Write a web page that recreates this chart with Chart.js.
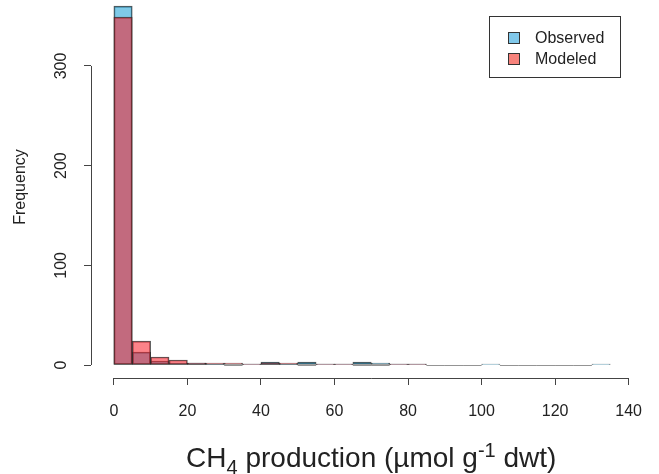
<!DOCTYPE html>
<html>
<head>
<meta charset="utf-8">
<script src="https://cdn.jsdelivr.net/npm/chart.js@4/dist/chart.umd.min.js"></script>
<style>
  html, body { margin: 0; padding: 0; background: #ffffff; }
  #wrap { width: 659px; height: 474px; }
</style>
</head>
<body>
<div id="wrap"><canvas id="hist" width="659" height="474"></canvas></div>
<script>
// Histogram bins (µmol g-1 dwt), 5-unit wide
const binLo = [0, 5, 10, 15, 20, 25, 30, 35, 40, 45, 50, 55, 60, 65, 70, 75, 80, 85, 90, 95, 100, 105, 110, 115, 120, 125, 130];
const binHi = [5, 10, 15, 20, 25, 30, 35, 40, 45, 50, 55, 60, 65, 70, 75, 80, 85, 90, 95, 100, 105, 110, 115, 120, 125, 130, 135];

// Counts per bin
const observedCounts = [360, 13, 4, 2, 2, 1, 0, 1, 3, 1, 3, 1, 1, 3, 2, 1, 1, 0, 0, 0, 1, 0, 0, 0, 0, 0, 1];
const modeledCounts  = [349, 24, 8, 5, 2, 2, 2, 1, 2, 2, 0, 1, 1, 0, 0, 1, 1];

// Axis ticks
const xTicks = [0, 20, 40, 60, 80, 100, 120, 140];
const yTicks = [0, 100, 200, 300];

const seriesNames = ['Observed', 'Modeled'];
const seriesFill = ['rgba(0, 150, 210, 0.5)', 'rgba(250, 30, 40, 0.55)'];
const legendFill = ['#80c8ea', '#f8837c'];

const FONT = '"Liberation Sans", Arial, Helvetica, sans-serif';

function toPoints(counts) {
  return counts.map((c, i) => ({ x: (binLo[i] + binHi[i]) / 2, y: c, lo: binLo[i], hi: binHi[i] }));
}

// Axes, labels, zero-height bins and legend, drawn in the style of base graphics
const rAxes = {
  id: 'rAxes',
  afterDatasetsDraw(chart) {
    const ctx = chart.ctx;
    const xs = chart.scales.x, ys = chart.scales.y;
    ctx.save();
    // zero-count bins show as a flat outline
    chart.data.datasets.forEach((ds) => {
      ds.data.forEach((p) => {
        if (p.y === 0) {
          const y0 = Math.round(ys.getPixelForValue(0)) + 0.5;
          ctx.strokeStyle = 'rgba(60,60,60,0.55)';
          ctx.lineWidth = 1;
          ctx.beginPath();
          ctx.moveTo(xs.getPixelForValue(p.lo), y0);
          ctx.lineTo(xs.getPixelForValue(p.hi), y0);
          ctx.stroke();
        }
      });
    });
    ctx.restore();
  },
  afterDraw(chart) {
    const ctx = chart.ctx;
    const xs = chart.scales.x, ys = chart.scales.y;
    const area = chart.chartArea;
    ctx.save();
    ctx.strokeStyle = '#444';
    ctx.lineWidth = 1;
    // x axis line
    const xy = Math.round(area.bottom) + 0.5;
    ctx.beginPath();
    ctx.moveTo(xs.getPixelForValue(xTicks[0]), xy);
    ctx.lineTo(xs.getPixelForValue(xTicks[xTicks.length - 1]), xy);
    ctx.stroke();
    // y axis line
    const yx = Math.round(area.left) + 0.5;
    ctx.beginPath();
    ctx.moveTo(yx, ys.getPixelForValue(yTicks[0]));
    ctx.lineTo(yx, ys.getPixelForValue(yTicks[yTicks.length - 1]));
    ctx.stroke();
    // y tick labels, rotated
    ctx.fillStyle = '#222';
    ctx.font = '16px ' + FONT;
    ctx.textAlign = 'center';
    ctx.textBaseline = 'middle';
    yTicks.forEach((v) => {
      ctx.save();
      ctx.translate(area.left - 29, ys.getPixelForValue(v));
      ctx.rotate(-Math.PI / 2);
      ctx.fillText(String(v), 0, 0);
      ctx.restore();
    });
    // y title
    ctx.save();
    ctx.translate(21, 187);
    ctx.rotate(-Math.PI / 2);
    ctx.font = '16px ' + FONT;
    ctx.fillText('Frequency', 0, 0);
    ctx.restore();
    // x title with sub/superscripts
    const parts = [
      { t: 'CH', size: 28, dy: 0 },
      { t: '4', size: 20, dy: 7 },
      { t: ' production (µmol g', size: 28, dy: 0 },
      { t: '-1', size: 20, dy: -10 },
      { t: ' dwt)', size: 28, dy: 0 }
    ];
    let total = 0;
    parts.forEach((p) => { ctx.font = p.size + 'px ' + FONT; p.w = ctx.measureText(p.t).width; total += p.w; });
    let cx = (xs.getPixelForValue(xTicks[0]) + xs.getPixelForValue(xTicks[xTicks.length - 1])) / 2 - total / 2;
    ctx.textAlign = 'left';
    ctx.textBaseline = 'alphabetic';
    parts.forEach((p) => {
      ctx.font = p.size + 'px ' + FONT;
      ctx.fillText(p.t, cx, 467 + p.dy);
      cx += p.w;
    });
    // legend
    const lx = 489.5, ly = 16.5, lw = 131, lh = 61;
    ctx.strokeStyle = '#333';
    ctx.strokeRect(lx, ly, lw, lh);
    ctx.font = '16px ' + FONT;
    ctx.textBaseline = 'middle';
    seriesNames.forEach((name, i) => {
      const y = 38 + i * 21;
      ctx.fillStyle = legendFill[i];
      ctx.fillRect(508, y - 6, 12, 12);
      ctx.strokeStyle = '#333';
      ctx.strokeRect(508.5, y - 5.5, 11, 11);
      ctx.fillStyle = '#222';
      ctx.fillText(name, 535, y + 1);
    });
    ctx.restore();
  }
};

new Chart(document.getElementById('hist'), {
  type: 'bar',
  data: {
    datasets: [
      { label: seriesNames[0], data: toPoints(observedCounts), backgroundColor: seriesFill[0],
        borderColor: 'rgba(40,40,40,0.8)', borderWidth: 1, borderSkipped: false, order: 2 },
      { label: seriesNames[1], data: toPoints(modeledCounts), backgroundColor: seriesFill[1],
        borderColor: 'rgba(40,40,40,0.8)', borderWidth: 1, borderSkipped: false, order: 1 }
    ]
  },
  options: {
    responsive: false,
    animation: false,
    devicePixelRatio: 1,
    layout: { padding: 0 },
    datasets: { bar: { grouped: false, barPercentage: 1, categoryPercentage: 1 } },
    plugins: { legend: { display: false }, tooltip: { enabled: false } },
    scales: {
      x: {
        type: 'linear',
        offset: false,
        min: -6.216,
        max: 147.3,
        afterBuildTicks: (s) => { s.ticks = xTicks.map((v) => ({ value: v })); },
        afterFit: (s) => { s.height = 96; },
        grid: { offset: false, drawOnChartArea: false, drawTicks: true, tickLength: 7, color: '#444' },
        border: { display: false },
        ticks: { autoSkip: false, maxRotation: 0, padding: 17, color: '#222', font: { family: FONT, size: 16 } }
      },
      y: {
        type: 'linear',
        min: -13.04,
        max: 366.2,
        afterBuildTicks: (s) => { s.ticks = yTicks.map((v) => ({ value: v })); },
        afterFit: (s) => { s.width = 91; },
        grid: { drawOnChartArea: false, drawTicks: true, tickLength: 7, color: '#444' },
        border: { display: false },
        ticks: { display: false }
      }
    }
  },
  plugins: [rAxes]
});
</script>
</body>
</html>
